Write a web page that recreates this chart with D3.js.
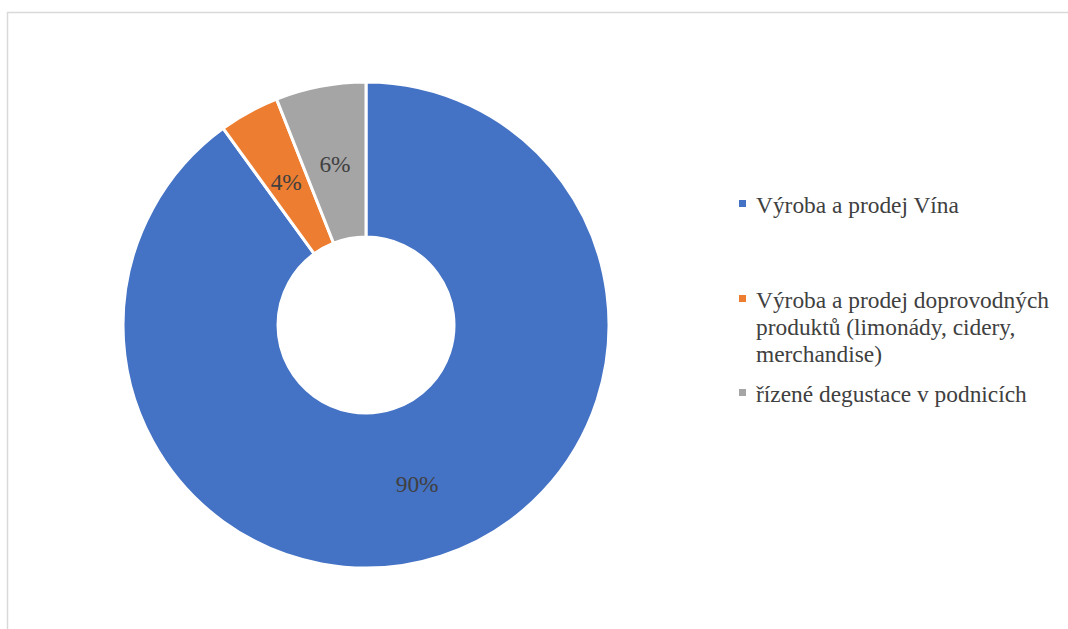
<!DOCTYPE html>
<html>
<head>
<meta charset="utf-8">
<script src="https://cdn.jsdelivr.net/npm/d3@7"></script>
<style>
  html, body { margin: 0; padding: 0; background: #fff; }
  svg { display: block; }
  svg text { font-family: "Liberation Serif", "Times New Roman", serif; }
</style>
</head>
<body>
<svg id="chart" width="1068" height="629"></svg>
<script>
const categories = [
  "Výroba a prodej Vína",
  "Výroba a prodej doprovodných produktů (limonády, cidery, merchandise)",
  "řízené degustace v podnicích"
];
const legendLines = [
  ["Výroba a prodej Vína"],
  ["Výroba a prodej doprovodných", "produktů (limonády, cidery,", "merchandise)"],
  ["řízené degustace v podnicích"]
];
const values = [90, 4, 6];
const labels = ["90%", "4%", "6%"];
const colors = ["#4472C4", "#ED7D31", "#A5A5A5"];

const svg = d3.select("#chart");

svg.append("rect")
  .attr("x", 7.5).attr("y", 12.5)
  .attr("width", 1080).attr("height", 640)
  .attr("fill", "none").attr("stroke", "#D9D9D9").attr("stroke-width", 1.5);

const cx = 366, cy = 325, rOut = 243, rIn = 88;

const pie = d3.pie().value(d => d).sort(null);
const arcs = pie(values);
const arc = d3.arc().innerRadius(rIn).outerRadius(rOut);
const labelArc = d3.arc().innerRadius((rIn + rOut) / 2).outerRadius((rIn + rOut) / 2);

const g = svg.append("g").attr("transform", `translate(${cx},${cy})`);
g.selectAll("path.slice")
  .data(arcs)
  .join("path")
  .attr("class", "slice")
  .attr("d", arc)
  .attr("fill", (d, i) => colors[i])
  .attr("stroke", "#fff")
  .attr("stroke-width", 3);

g.selectAll("text.lbl")
  .data(arcs)
  .join("text")
  .attr("class", "lbl")
  .attr("transform", d => `translate(${labelArc.centroid(d)})`)
  .attr("text-anchor", "middle")
  .attr("dy", "0.42em")
  .attr("font-size", 23.4)
  .attr("fill", "#404040")
  .text((d, i) => labels[i]);

const legendX = 739, textX = 756;
const legendBase = [213, 308, 402];
const lineH = 27;
const lg = svg.append("g");
legendLines.forEach((lines, i) => {
  lg.append("rect")
    .attr("x", legendX).attr("y", legendBase[i] - 13)
    .attr("width", 7).attr("height", 7)
    .attr("fill", colors[i]);
  const t = lg.append("text")
    .attr("font-size", 23.4)
    .attr("fill", "#404040");
  lines.forEach((ln, j) => {
    t.append("tspan").attr("x", textX).attr("y", legendBase[i] + j * lineH).text(ln);
  });
});
</script>
</body>
</html>
